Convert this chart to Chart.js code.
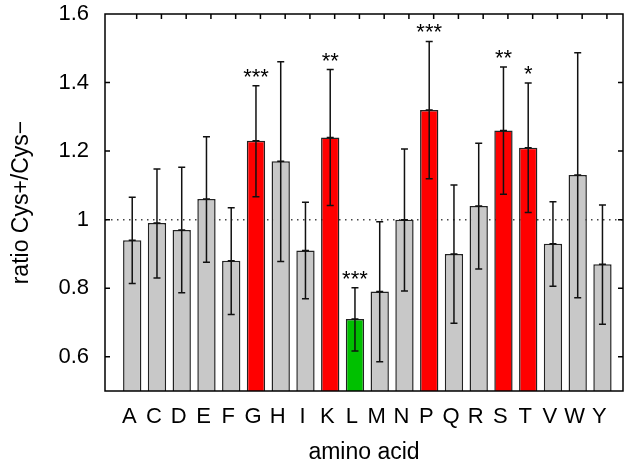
<!DOCTYPE html>
<html>
<head>
<meta charset="utf-8">
<script src="https://cdn.jsdelivr.net/npm/chart.js@4/dist/chart.umd.min.js"></script>
<style>
body { margin: 0; background: #fff; }
#wrap { width: 624px; height: 466px; }
</style>
</head>
<body>
<div id="wrap"><canvas id="myChart"></canvas></div>
<script>
// amino acids and measured ratio Cys+/Cys-
const aminoAcids = ["A","C","D","E","F","G","H","I","K","L","M","N","P","Q","R","S","T","V","W","Y"];
const ratios   = [0.94, 0.99, 0.97, 1.06, 0.88, 1.23, 1.17, 0.91, 1.24, 0.71, 0.79, 1.00, 1.32, 0.90, 1.04, 1.26, 1.21, 0.93, 1.13, 0.87];
const errHigh  = [1.065, 1.148, 1.153, 1.242, 1.035, 1.391, 1.461, 1.051, 1.438, 0.801, 0.994, 1.206, 1.520, 1.101, 1.223, 1.445, 1.399, 1.052, 1.487, 1.043];
const errLow   = [0.814, 0.830, 0.787, 0.876, 0.723, 1.067, 0.878, 0.769, 1.041, 0.617, 0.585, 0.792, 1.119, 0.698, 0.856, 1.074, 1.021, 0.806, 0.772, 0.695];
const stars    = ["", "", "", "", "", "***", "", "", "**", "***", "", "", "***", "", "", "**", "*", "", "", ""];
const change   = ["ns","ns","ns","ns","ns","up","ns","ns","up","down","ns","ns","up","ns","ns","up","up","ns","ns","ns"];
const yTicks   = [0.6, 0.8, 1.0, 1.2, 1.4, 1.6];

const colorOf = { up: "#ff0000", down: "#00c000", ns: "#c8c8c8" };

Chart.defaults.font.family = "'Liberation Sans', Arial, sans-serif";
Chart.defaults.font.size = 22;
Chart.defaults.color = "#000";

const frame = {
    id: "frame",
    beforeDatasetsDraw(chart) {
        const ctx = chart.ctx, a = chart.chartArea;
        const y = chart.scales.y;
        // dotted reference line at ratio 1
        ctx.save();
        ctx.strokeStyle = "#444";
        ctx.lineWidth = 1.5;
        ctx.setLineDash([1.5, 4.5]);
        ctx.beginPath();
        ctx.moveTo(a.left, y.getPixelForValue(1));
        ctx.lineTo(a.right, y.getPixelForValue(1));
        ctx.stroke();
        ctx.restore();
    },
    afterDatasetsDraw(chart) {
        const ctx = chart.ctx, a = chart.chartArea;
        const x = chart.scales.x, y = chart.scales.y;
        ctx.save();
        // error bars
        ctx.strokeStyle = "#111";
        ctx.lineWidth = 1.5;
        for (let i = 0; i < aminoAcids.length; i++)
        {
            let px = x.getPixelForValue(i);
            let hi = y.getPixelForValue(errHigh[i]);
            let lo = y.getPixelForValue(errLow[i]);
            ctx.beginPath();
            ctx.moveTo(px, hi); ctx.lineTo(px, lo);
            ctx.moveTo(px - 3.5, hi); ctx.lineTo(px + 3.5, hi);
            ctx.moveTo(px - 3.5, lo); ctx.lineTo(px + 3.5, lo);
            ctx.moveTo(px - 3.5, y.getPixelForValue(ratios[i])); ctx.lineTo(px + 3.5, y.getPixelForValue(ratios[i]));
            ctx.stroke();
        }
        // significance stars
        ctx.fillStyle = "#000";
        ctx.font = "22px 'Liberation Sans', Arial, sans-serif";
        ctx.textAlign = "center";
        ctx.textBaseline = "alphabetic";
        for (let i = 0; i < aminoAcids.length; i++)
        {
            if (!stars[i]) continue;
            ctx.fillText(stars[i], x.getPixelForValue(i), y.getPixelForValue(errHigh[i]) - 2);
        }
        // inward tick marks
        ctx.strokeStyle = "#000";
        ctx.lineWidth = 1.5;
        ctx.beginPath();
        for (const v of yTicks.slice(0, -1))
        {
            let py = y.getPixelForValue(v);
            ctx.moveTo(a.left, py); ctx.lineTo(a.left + 5, py);
            ctx.moveTo(a.right, py); ctx.lineTo(a.right - 5, py);
        }
        for (let i = 0; i < aminoAcids.length; i++)
        {
            let px = x.getPixelForValue(i + 0.18);
            ctx.moveTo(px, a.top); ctx.lineTo(px, a.top + 5);
        }
        ctx.stroke();
        // plot border
        ctx.lineWidth = 1.5;
        ctx.strokeRect(a.left, a.top, a.right - a.left, a.bottom - a.top);
        ctx.restore();
    }
};

const ctx = document.getElementById("myChart").getContext("2d");
const myChart = new Chart(ctx, {
    type: "bar",
    data: {
        datasets: [{
            data: ratios.map((v, i) => ({ x: i, y: v })),
            backgroundColor: change.map(c => colorOf[c]),
            borderColor: "#222",
            borderWidth: 1.5,
            barPercentage: 0.74,
            categoryPercentage: 1
        }]
    },
    options: {
        responsive: true,
        maintainAspectRatio: false,
        animation: false,
        layout: { padding: { top: 14, right: 1, left: 0, bottom: 0 } },
        plugins: { legend: { display: false }, tooltip: { enabled: false } },
        scales: {
            x: {
                type: "linear",
                min: -1.1,
                max: 19.83,
                offset: false,
                grid: { display: false, offset: false, drawTicks: false },
                border: { display: false },
                afterBuildTicks: s => { s.ticks = aminoAcids.map((_, i) => ({ value: i })); },
                afterFit: s => { s.height = 75; s.paddingLeft = 0; s.paddingRight = 0; },
                ticks: {
                    autoSkip: false,
                    maxRotation: 0,
                    padding: 13,
                    labelOffset: -3,
                    callback: v => aminoAcids[v] ?? ""
                },
                title: { display: true, text: "amino acid", font: { size: 23 }, padding: { top: 0, bottom: 0 } }
            },
            y: {
                min: 0.5,
                max: 1.6,
                grid: { display: false, drawTicks: false },
                border: { display: false },
                afterBuildTicks: s => { s.ticks = yTicks.map(v => ({ value: v })); },
                afterFit: s => { s.width = 105; s.paddingTop = 0; s.paddingBottom = 0; },
                ticks: {
                    padding: 16,
                    callback: v => String(+v.toFixed(1))
                },
                title: { display: true, text: "ratio Cys+/Cys\u2212", font: { size: 23 }, padding: { top: 8, bottom: 0 } }
            }
        }
    },
    plugins: [frame]
});
</script>
</body>
</html>
